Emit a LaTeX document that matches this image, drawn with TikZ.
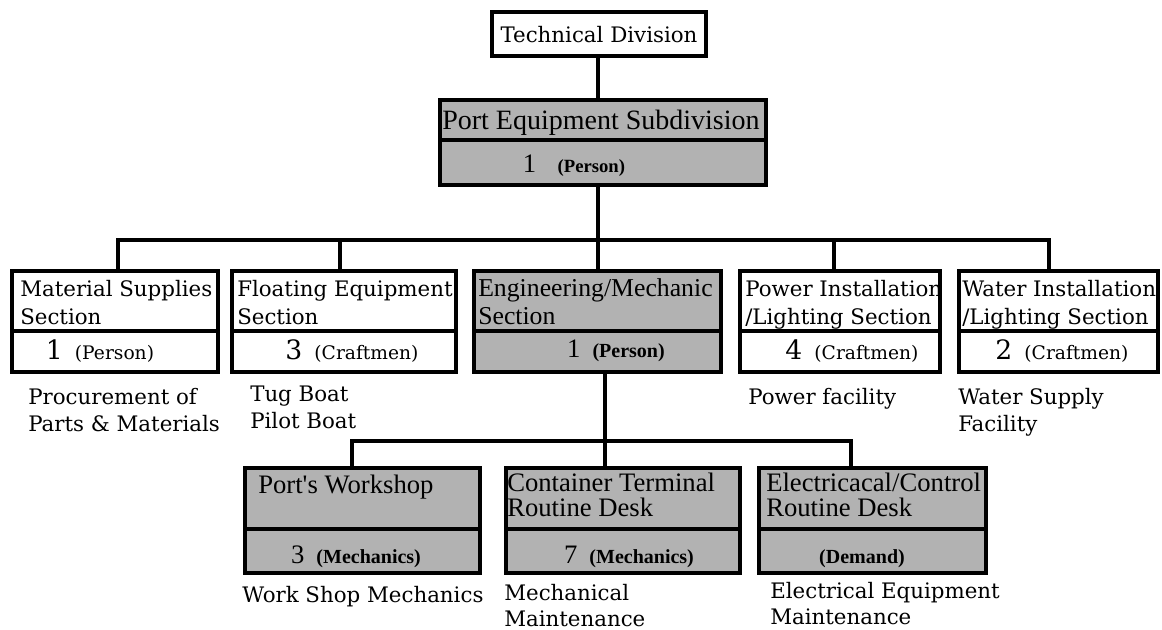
\documentclass[tikz,border=0pt]{standalone}
\usepackage{fontspec}
\setmainfont{DejaVu Serif}
\newfontfamily\shfont{Liberation Serif}
\usetikzlibrary{calc}
\newcommand\myfs[1]{\fontsize{#1}{#1}\selectfont}
\newcommand\boxat[6]{\node[#6, minimum width={(#4-#2)*0.75pt-3pt}, minimum height={(#5-#3)*0.75pt-3pt}] (#1) at ({(#2+#4)/2},{(#3+#5)/2}) {};}
\tikzset{
  bx/.style={draw, line width=3pt, inner sep=0pt, outer sep=0pt},
  wbox/.style={bx, fill=white},
  gbox/.style={bx, fill=black!30},
  divl/.style={line width=2.6pt},
  conn/.style={line width=3pt, line cap=rect, line join=miter},
  ttl/.style={anchor=base west, inner sep=0pt, font=\myfs{16}},
  sttl/.style={anchor=base west, inner sep=0pt, font=\shfont\myfs{20}},
  desc/.style={anchor=base west, inner sep=0pt, font=\myfs{16}},
  cnt/.style={anchor=base, inner sep=0pt},
}
\newcommand\wcnt[2]{{\myfs{20}#1}\hspace{9pt}{\myfs{14}(#2)}}
\newcommand\gcnt[2]{{\shfont\myfs{20}#1}\hspace{9pt}{\shfont\bfseries\myfs{15}(#2)}}
\begin{document}
\begin{tikzpicture}[x=0.75pt,y=-0.75pt]
\useasboundingbox (0,0) rectangle (1162,630);
\fill[white] (0,0) rectangle (1162,630);

% ---- boxes (named) ----
\boxat{tech}{490}{10}{708}{58}{wbox}
\boxat{pe}{438}{98}{768}{187}{gbox}
\boxat{mat}{10}{269}{220}{374}{wbox}
\boxat{flo}{230}{269}{458}{374}{wbox}
\boxat{eng}{472}{269}{723}{374}{gbox}
\boxat{pow}{738}{269}{942}{374}{wbox}
\boxat{wat}{957}{269}{1160}{374}{wbox}
\boxat{ws}{243}{466}{482}{575}{gbox}
\boxat{ct}{504}{466}{742}{575}{gbox}
\boxat{el}{757}{466}{988}{575}{gbox}

% ---- connectors ----
\coordinate (b1) at (598,240);
\coordinate (b2) at (605,441);
\coordinate (dm) at ($(mat.north)+(3,0)$);
\coordinate (df) at ($(flo.north)+(-4,0)$);
\coordinate (dp) at ($(pow.north)+(-6,0)$);
\coordinate (dw) at ($(wat.north)+(-10,0)$);
\coordinate (dws) at ($(ws.north)+(-11,0)$);
\coordinate (del) at ($(el.north)+(-22,0)$);
\draw[conn] (tech.south -| b1) -- (pe.north -| b1);
\draw[conn] (pe.south -| b1) -- (eng.north -| b1);
\draw[conn] (dm) -- (dm |- b1) -- (dw |- b1) -- (dw);
\draw[conn] (df) -- (df |- b1);
\draw[conn] (dp) -- (dp |- b1);
\draw[conn] (eng.south -| b2) -- (ct.north -| b2);
\draw[conn] (dws) -- (dws |- b2) -- (del |- b2) -- (del);

% redraw box borders on top of connector ends
\foreach \n in {tech,pe,mat,flo,eng,pow,wat,ws,ct,el}
  \draw[line width=3pt] (\n.north west) rectangle (\n.south east);

% ---- dividers ----
\draw[divl] (pe.west |- 0,140) -- (pe.east |- 0,140);
\foreach \n in {mat,flo,eng,pow,wat}
  \draw[divl] (\n.west |- 0,331) -- (\n.east |- 0,331);
\foreach \n in {ws,ct,el}
  \draw[divl] (\n.west |- 0,529) -- (\n.east |- 0,529);

% ---- texts ----
\node[ttl, anchor=base] (techT) at (599,43) {Technical Division};
\node[sttl, font=\shfont\myfs{21}] (peT) at (442,130) {Port Equipment Subdivision};
\node[cnt] (peC) at (574,173) {{\shfont\myfs{20}1}\hspace{16pt}{\shfont\bfseries\myfs{14}(Person)}};

\node[ttl] (matT1) at (20,297) {Material Supplies};
\node[ttl] (matT2) at (20,325) {Section};
\node[cnt] (matC) at (100,359) {\wcnt{1}{Person}};

\node[ttl] (floT1) at (237,297) {Floating Equipment};
\node[ttl] (floT2) at (237,325) {Section};
\node[cnt] (floC) at (352,359) {\wcnt{3}{Craftmen}};

\node[sttl, font=\shfont\myfs{19.3}] (engT1) at (478,297) {Engineering/Mechanic};
\node[sttl, font=\shfont\myfs{19.3}] (engT2) at (478,325) {Section};
\node[cnt] (engC) at (616,358) {\gcnt{1}{Person}};

\node[ttl] (powT1) at (745,297) {Power Installation};
\node[ttl] (powT2) at (745,325) {/Lighting Section};
\node[cnt] (powC) at (852,359) {\wcnt{4}{Craftmen}};

\node[ttl] (watT1) at (962,297) {Water Installation};
\node[ttl] (watT2) at (962,325) {/Lighting Section};
\node[cnt] (watC) at (1062,359) {\wcnt{2}{Craftmen}};

\node[desc] (matD1) at (28,404) {Procurement of};
\node[desc] (matD2) at (28,431) {Parts \& Materials};
\node[desc] (floD1) at (250,402) {Tug Boat};
\node[desc] (floD2) at (250,428) {Pilot Boat};
\node[desc] (powD1) at (748,404) {Power facility};
\node[desc] (watD1) at (958,404) {Water Supply};
\node[desc] (watD2) at (958,431) {Facility};

\node[sttl] (wsT) at (258,493) {Port's Workshop};
\node[cnt] (wsC) at (356,563) {\gcnt{3}{Mechanics}};
\node[sttl] (ctT1) at (507,491) {Container Terminal};
\node[sttl] (ctT2) at (507,516) {Routine Desk};
\node[cnt] (ctC) at (629,563) {\gcnt{7}{Mechanics}};
\node[sttl] (elT1) at (766,491) {Electricacal/Control};
\node[sttl] (elT2) at (766,516) {Routine Desk};
\node[cnt] (elC) at (862,563) {{\shfont\bfseries\myfs{15}(Demand)}};

\node[desc] (wsD) at (242,602) {Work Shop Mechanics};
\node[desc] (ctD1) at (504,600) {Mechanical};
\node[desc] (ctD2) at (504,626) {Maintenance};
\node[desc] (elD1) at (770,598) {Electrical Equipment};
\node[desc] (elD2) at (770,624) {Maintenance};
\end{tikzpicture}
\end{document}
